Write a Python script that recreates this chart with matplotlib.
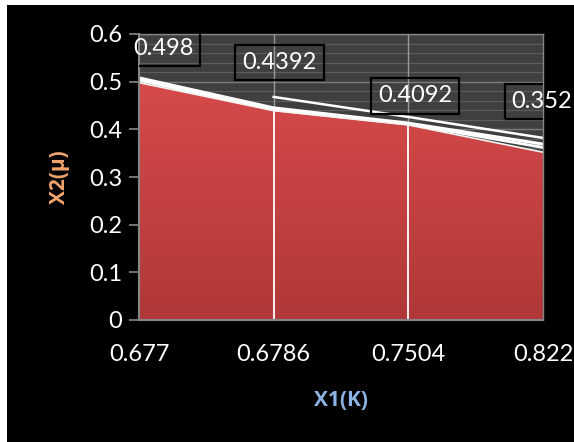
import numpy as np
import matplotlib
matplotlib.use("Agg")
import matplotlib.pyplot as plt
from matplotlib.patches import Rectangle, Polygon

# valores del gráfico
categorias = ["0.677", "0.6786", "0.7504", "0.822"]
x2_area = [0.498, 0.4392, 0.4092, 0.352]
linea_a = [np.nan, 0.468, 0.426, 0.382]
linea_b = [0.508, 0.445, 0.413, 0.369]
linea_c = [0.503, 0.441, 0.411, 0.362]
etiquetas_y = ["0", "0.1", "0.2", "0.3", "0.4", "0.5", "0.6"]

plt.rcParams["font.family"] = ["Lato", "DejaVu Sans"]

fig = plt.figure(figsize=(5.74, 4.42), dpi=100, facecolor="white")
# fondo negro del gráfico (deja un borde blanco arriba e izquierda)
fig.patches.append(Rectangle((7 / 574, 0), 1 - 7 / 574, 1 - 5 / 442,
                             transform=fig.transFigure, facecolor="black",
                             edgecolor="none", zorder=-10))

ax = fig.add_axes([139 / 574, 1 - 320 / 442, 404 / 574, 286 / 442])
ax.set_facecolor("#3f3f3f")
x = np.arange(len(categorias))
ax.set_xlim(0, len(categorias) - 1)
ax.set_ylim(0, 0.6)

# rayas horizontales del fondo
for yy in np.arange(0.02, 0.6, 0.02):
    ax.axhline(yy, color="#5c5c5c", lw=0.9, zorder=0)
for yy in np.arange(0.1, 0.61, 0.1):
    ax.axhline(yy, color="#7a7a7a", lw=1.0, zorder=0)

# área con degradado rojo
verts = [(0, 0)] + list(zip(x, x2_area)) + [(x[-1], 0)]
poly = Polygon(verts, closed=True, facecolor="none", edgecolor="none")
ax.add_patch(poly)
grad = np.linspace(0, 1, 256).reshape(-1, 1)
top_c = np.array([0.84, 0.29, 0.29])
bot_c = np.array([0.69, 0.22, 0.22])
img = top_c * (1 - grad[..., None]) + bot_c * grad[..., None]
img = np.repeat(img, 2, axis=1)
im = ax.imshow(img, extent=[0, x[-1], 0, max(x2_area)], origin="upper",
               aspect="auto", zorder=1)
im.set_clip_path(poly)

# líneas verticales de categoría: blancas dentro del área, grises encima
for xi, v in zip(x[1:-1], x2_area[1:-1]):
    ax.plot([xi, xi], [0, v], color="white", lw=1.3, zorder=2)
    ax.plot([xi, xi], [v, 0.6], color="#9a9a9a", lw=1.0, zorder=0.5)

# líneas blancas
ax.plot(x, linea_a, color="white", lw=1.8, zorder=3)
ax.plot(x, linea_b, color="white", lw=2.2, zorder=3)
ax.plot(x, linea_c, color="white", lw=2.0, zorder=3)
ax.plot(x, x2_area, color="#f4f4f4", lw=1.2, zorder=3)

# etiquetas de datos
offsets = [(24, 34), (6, 48), (7, 29), (-1, 51)]
for xi, v, (dx, dy) in zip(x, x2_area, offsets):
    txt = f"{v:g}"
    ax.annotate(txt, xy=(xi, v), xytext=(dx * 0.72, dy * 0.72),
                textcoords="offset points", ha="center", va="center",
                fontsize=17, color="none", zorder=5, annotation_clip=False,
                bbox=dict(boxstyle="square,pad=0.3", facecolor="none",
                          edgecolor="black", lw=1.6), clip_on=True)
    ax.annotate(txt, xy=(xi, v), xytext=(dx * 0.72, dy * 0.72),
                textcoords="offset points", ha="center", va="center",
                fontsize=17, color="white", zorder=6, annotation_clip=False,
                clip_on=False)

for s in ax.spines.values():
    s.set_visible(False)
ax.plot([0, 0], [0, 0.6], color="#868686", lw=1.5, clip_on=False, zorder=4)
ax.plot([0, x[-1]], [0, 0], color="#868686", lw=1.5, clip_on=False, zorder=4)
ax.plot([x[-1], x[-1]], [0, 0.6], color="#868686", lw=1.0, clip_on=False, zorder=4)
ax.plot([0, x[-1]], [0.6, 0.6], color="#868686", lw=1.0, clip_on=False, zorder=4)

ax.set_yticks(np.arange(0, 0.61, 0.1))
ax.set_yticklabels(etiquetas_y)
ax.set_xticks(x)
ax.set_xticklabels(categorias)
ax.tick_params(axis="y", colors="#868686", labelcolor="white", labelsize=17,
               length=7, width=1.2, pad=5)
ax.tick_params(axis="x", colors="#868686", labelcolor="white", labelsize=17,
               length=0, pad=17)

ax.set_ylabel("X2(μ)", color="#f2a46c", fontsize=15, fontweight="bold",
              family=["Open Sans", "DejaVu Sans"], labelpad=14)
ax.set_xlabel("X1(K)", color="#8db3e2", fontsize=15, fontweight="bold",
              family=["Open Sans", "DejaVu Sans"], labelpad=18)

fig.savefig("out.png", dpi=100, facecolor="white")
